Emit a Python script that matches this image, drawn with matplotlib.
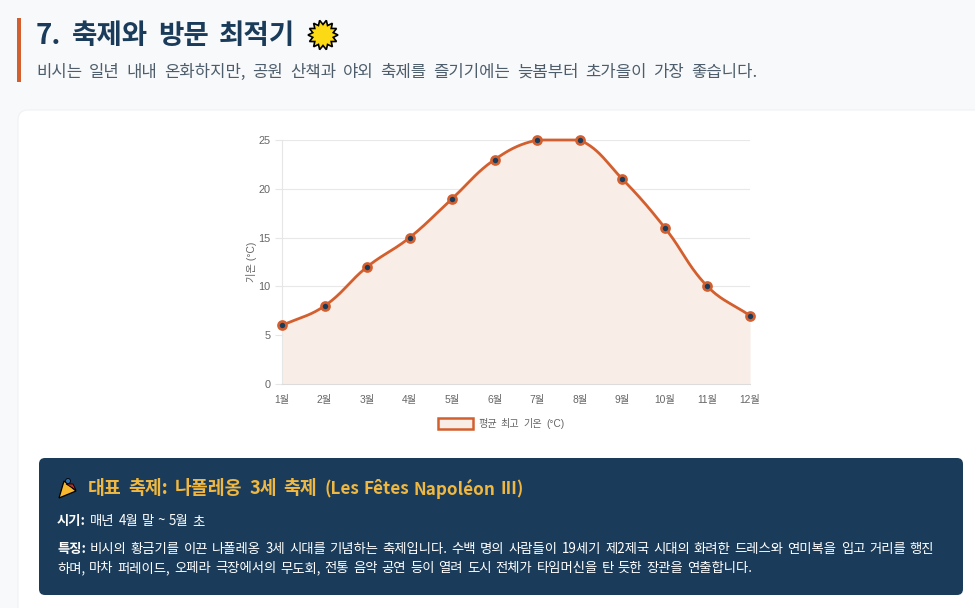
import numpy as np
import matplotlib
matplotlib.use("Agg")
import matplotlib.pyplot as plt
from matplotlib.patches import FancyBboxPatch, Rectangle, Polygon, Circle

plt.rcParams['font.family'] = ['Noto Sans CJK KR', 'DejaVu Sans']

meses = ["1월", "2월", "3월", "4월", "5월", "6월", "7월", "8월", "9월", "10월", "11월", "12월"]
temperaturas = [6, 8, 12, 15, 19, 23, 25, 25, 21, 16, 10, 7]
ticks_y = [0, 5, 10, 15, 20, 25]

titulo = "7. 축제와 방문 최적기"
subtitulo = "비시는 일년 내내 온화하지만, 공원 산책과 야외 축제를 즐기기에는 늦봄부터 초가을이 가장 좋습니다."
nombre_serie = "평균 최고 기온 (°C)"
etiqueta_y = "기온 (°C)"
caja_titulo = "대표 축제: 나폴레옹 3세 축제"
caja_titulo_fr = "(Les Fêtes Napoléon III)"
caja_fecha = "매년 4월 말 ~ 5월 초"
caja_linea1 = "비시의 황금기를 이끈 나폴레옹 3세 시대를 기념하는 축제입니다. 수백 명의 사람들이 19세기 제2제국 시대의 화려한 드레스와 연미복을 입고 거리를 행진"
caja_linea2 = "하며, 마차 퍼레이드, 오페라 극장에서의 무도회, 전통 음악 공연 등이 열려 도시 전체가 타임머신을 탄 듯한 장관을 연출합니다."

NARANJA = "#d35f2e"
AZUL = "#1a3c5a"
FUENTE_GRAFICO = ['Liberation Sans', 'Noto Sans CJK KR']
W, H = 975, 608


def curva_suave(xs, ys, t=0.4, n=30):
    # bezier spline with control points capped to the y range
    xs = np.array(xs, dtype=float)
    ys = np.array(ys, dtype=float)
    sx = 42.5
    sy = 244 / 25
    px = xs * sx
    py = ys * sy
    out_x, out_y = [], []
    cps = []
    for i in range(len(xs)):
        a = max(i - 1, 0)
        b = min(i + 1, len(xs) - 1)
        d01 = np.hypot(px[i] - px[a], py[i] - py[a])
        d12 = np.hypot(px[b] - px[i], py[b] - py[i])
        tot = d01 + d12
        fa = t * d01 / tot
        fb = t * d12 / tot
        cps.append((px[i] - fa * (px[b] - px[a]), py[i] - fa * (py[b] - py[a]),
                    px[i] + fb * (px[b] - px[a]), py[i] + fb * (py[b] - py[a])))
    tope = ys.max() * sy
    for i in range(len(xs) - 1):
        p0 = np.array([px[i], py[i]])
        p1 = np.array([cps[i][2], min(cps[i][3], tope)])
        p2 = np.array([cps[i + 1][0], min(cps[i + 1][1], tope)])
        p3 = np.array([px[i + 1], py[i + 1]])
        u = np.linspace(0, 1, n)[:, None]
        c = (1 - u) ** 3 * p0 + 3 * (1 - u) ** 2 * u * p1 + 3 * (1 - u) * u ** 2 * p2 + u ** 3 * p3
        out_x.extend(c[:, 0] / sx)
        out_y.extend(c[:, 1] / sy)
    return np.array(out_x), np.array(out_y)


def palabras(x, y, texto, size, color, gap, peso="normal", familia=None):
    # word by word because the original has wider word spacing
    r = fig.canvas.get_renderer()
    for p in texto.split(" "):
        t = bg.text(x, y, p, fontsize=size, color=color, fontweight=peso, va="center", ha="left",
                    family=familia or plt.rcParams['font.family'])
        x += t.get_window_extent(r).width + gap
    return x


fig = plt.figure(figsize=(W / 100, H / 100), dpi=100, facecolor="#f8f9fa")
bg = fig.add_axes([0, 0, 1, 1])
bg.set_xlim(0, W)
bg.set_ylim(H, 0)
bg.axis("off")
fig.canvas.draw()

# header
bg.add_patch(Rectangle((17, 18), 4, 64, color=NARANJA, lw=0))
palabras(36, 36, titulo, 19.9, AZUL, 10.3, "bold")
palabras(36, 72, subtitulo, 12, "#4d5d6b", 6.8)

# sun emoji
ang = np.linspace(0, 2 * np.pi, 29)[:-1]
rad = np.where(np.arange(28) % 2 == 0, 15, 10.5)
bg.add_patch(Polygon(np.c_[323 + rad * np.cos(ang), 35 + rad * np.sin(ang)], closed=True,
                     facecolor="#fcd915", edgecolor="black", lw=1.2))

# card
bg.add_patch(FancyBboxPatch((28, 120), 1000, 600, boxstyle="round,pad=10,rounding_size=10",
                            facecolor="white", edgecolor="#f0f1f3", lw=0.8))

# dark box
bg.add_patch(FancyBboxPatch((45, 464), 912, 125, boxstyle="round,pad=6,rounding_size=6",
                            facecolor=AZUL, edgecolor="none"))
xf = palabras(88, 489, caja_titulo, 13.2, "#f0b840", 6.8, "bold")
palabras(xf, 489, caja_titulo_fr, 12.3, "#f0b840", 4.5, "bold")

# party popper emoji
bg.add_patch(Polygon([(59, 498), (64, 481), (76, 491)], closed=True, facecolor="#f5b82e", edgecolor="black", lw=0.9))
bg.add_patch(Polygon([(66, 484), (73, 484), (76, 490)], closed=True, facecolor="#b03030", edgecolor="black", lw=0.6))
bg.add_patch(Circle((68, 481), 2.5, facecolor="#2a6fb0", edgecolor="black", lw=0.6))

xf = palabras(57, 521, "시기:", 9.6, "white", 4, "bold")
palabras(xf, 521, caja_fecha, 9.6, "white", 3.8, "medium")
xf = palabras(57, 549, "특징:", 9.6, "white", 4, "bold")
palabras(xf, 549, caja_linea1, 9.6, "white", 4, "medium")
palabras(57, 568, caja_linea2, 9.6, "white", 4, "medium")

# chart
x0, x1, y0, y1 = 282, 750, 384, 140
ax = fig.add_axes([x0 / W, 1 - y0 / H, (x1 - x0) / W, (y0 - y1) / H])
ax.patch.set_alpha(0)
x = np.arange(len(meses))
cx, cy = curva_suave(x, temperaturas)
ax.fill_between(cx, 0, cy, color="#f9ede7", lw=0)
ax.plot(cx, cy, color=NARANJA, lw=2.0, zorder=3, clip_on=False, solid_capstyle="round")
ax.plot(x, temperaturas, "o", color=AZUL, mec=NARANJA, mew=1.9, ms=5.8, zorder=4, clip_on=False)
ax.set_xlim(0, len(meses) - 1)
ax.set_ylim(0, 25)
ax.set_xticks(x, meses, family=FUENTE_GRAFICO, fontsize=7.4)
ax.set_yticks(ticks_y, [str(v) for v in ticks_y], family=FUENTE_GRAFICO, fontsize=7.9)
ax.tick_params(labelcolor="#666666", length=0, pad=8)
ax.tick_params(axis="y", length=5, color="#e6e6e6", width=0.8, pad=3)
ax.grid(axis="y", color="#e8e8e8", lw=0.8, zorder=0)
ax.set_axisbelow(True)
for lado in ["top", "right"]:
    ax.spines[lado].set_visible(False)
ax.spines["left"].set_color("#e6e6e6")
ax.spines["bottom"].set_color("#dcdcdc")
ax.set_ylabel(etiqueta_y, fontsize=7.4, color="#666666", labelpad=1, family=FUENTE_GRAFICO)

# legend
bg.add_patch(Rectangle((438, 418), 35, 11, facecolor="#f9ede7", edgecolor=NARANJA, lw=1.8, zorder=5))
palabras(478, 424, nombre_serie, 7.3, "#666666", 4, familia=FUENTE_GRAFICO)

fig.savefig("out.png", dpi=100, facecolor=fig.get_facecolor())
